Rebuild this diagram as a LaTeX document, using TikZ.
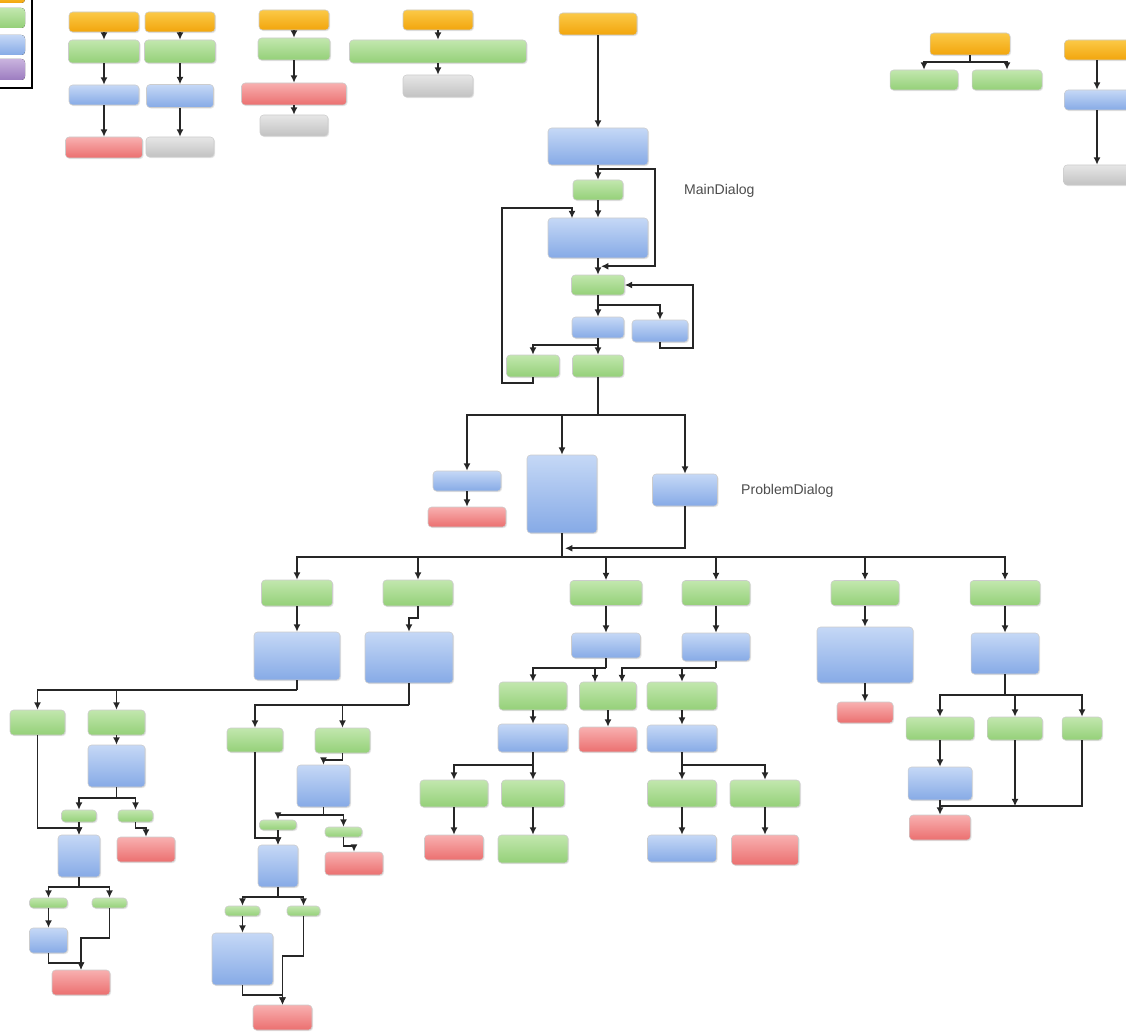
\documentclass[tikz,border=0pt]{standalone}
\usepackage{fontspec}
\setmainfont{Liberation Sans}
\usetikzlibrary{arrows.meta,shadows}

\definecolor{orgtop}{HTML}{FBC947}
\definecolor{orgbot}{HTML}{F2A50C}
\definecolor{grntop}{HTML}{C2E7AE}
\definecolor{grnbot}{HTML}{94D078}
\definecolor{blutop}{HTML}{C5D8F6}
\definecolor{blubot}{HTML}{86AAE6}
\definecolor{redtop}{HTML}{F8B0B0}
\definecolor{redbot}{HTML}{EB6F6F}
\definecolor{grytop}{HTML}{E6E6E6}
\definecolor{grybot}{HTML}{C2C2C2}
\definecolor{prptop}{HTML}{C9B3DE}
\definecolor{prpbot}{HTML}{9C7CC0}

\tikzset{
  wh/.style 2 args={minimum width=#1*0.2mm, minimum height=#2*0.2mm},
  boxbase/.style={rectangle, rounded corners=2pt, inner sep=0pt, draw=black!20, line width=0.3pt,
    drop shadow={shadow xshift=0.6pt, shadow yshift=-0.6pt, opacity=0.2}},
  startbox/.style={boxbase, top color=orgtop, bottom color=orgbot},
  actbox/.style={boxbase, top color=grntop, bottom color=grnbot},
  dlgbox/.style={boxbase, top color=blutop, bottom color=blubot},
  errbox/.style={boxbase, top color=redtop, bottom color=redbot},
  endbox/.style={boxbase, top color=grytop, bottom color=grybot},
  flow/.style={draw=black!85, line width=1pt, -{Latex[length=4.2pt,width=4pt]}},
  link/.style={draw=black!85, line width=1pt},
  dlgname/.style={font=\fontsize{8}{9}\selectfont, text=black!70}
}

\begin{document}
\begin{tikzpicture}[x=0.2mm, y=-0.2mm]
\useasboundingbox (0,0) rectangle (1126,1032);

% legend
\fill[top color=orgtop, bottom color=orgbot, rounded corners=2pt] (-10,-8) rectangle (25,3);
\fill[top color=grntop, bottom color=grnbot, rounded corners=2pt] (-10,8) rectangle (25,28);
\fill[top color=blutop, bottom color=blubot, rounded corners=2pt] (-10,35) rectangle (25,55);
\fill[top color=prptop, bottom color=prpbot, rounded corners=2pt] (-10,59) rectangle (25,80);
\draw[line width=1.2pt] (-10,-10) rectangle (32,88);

% small flows along the top
\node[startbox, wh={70}{20}] (o1) at (104,22) {};
\node[actbox, wh={71}{23}] (g1) at (104,51.5) {};
\node[dlgbox, wh={70}{20}] (b1) at (104,95) {};
\node[errbox, wh={77}{21}] (r1) at (104,147.5) {};
\draw[flow] (o1) -- (g1);
\draw[flow] (g1) -- (b1);
\draw[flow] (b1) -- (r1);

\node[startbox, wh={70}{20}] (o2) at (180,22) {};
\node[actbox, wh={71}{23}] (g2) at (180,51.5) {};
\node[dlgbox, wh={67}{23}] (b2) at (180,96) {};
\node[endbox, wh={68}{20}] (e2) at (180,147) {};
\draw[flow] (o2) -- (g2);
\draw[flow] (g2) -- (b2);
\draw[flow] (b2) -- (e2);

\node[startbox, wh={70}{20}] (o3) at (294,20) {};
\node[actbox, wh={72}{22}] (g3) at (294,49) {};
\node[errbox, wh={105}{22}] (r3) at (294,94) {};
\node[endbox, wh={68}{21}] (e3) at (294,125.5) {};
\draw[flow] (o3) -- (g3);
\draw[flow] (g3) -- (r3);
\draw[flow] (r3) -- (e3);

\node[startbox, wh={70}{20}] (o4) at (438,20) {};
\node[actbox, wh={177}{23}] (g4) at (438,51.5) {};
\node[endbox, wh={70}{22}] (e4) at (438,86) {};
\draw[flow] (o4) -- (g4);
\draw[flow] (g4) -- (e4);

\node[startbox, wh={80}{22}] (o5) at (970,44) {};
\node[actbox, wh={68}{20}] (g5a) at (924,80) {};
\node[actbox, wh={70}{20}] (g5b) at (1007,80) {};
\draw[link] (o5.south) -- ++(0,7);
\draw[flow] (o5.south) ++(0,7) -| (g5a.north);
\draw[flow] (o5.south) ++(0,7) -| (g5b.north);

\node[startbox, wh={65}{20}] (o6) at (1097,50) {};
\node[dlgbox, wh={65}{20}] (b6) at (1097,100) {};
\node[endbox, wh={67}{20}] (e6) at (1097,175) {};
\draw[flow] (o6) -- (b6);
\draw[flow] (b6) -- (e6);

% main dialog
\node[startbox, wh={78}{22}] (m0) at (598,24) {};
\node[dlgbox, wh={100}{37}] (m1) at (598,146.5) {};
\node[actbox, wh={50}{20}] (m2) at (598,190) {};
\node[dlgbox, wh={100}{40}] (m3) at (598,238) {};
\node[actbox, wh={53}{20}] (m4) at (598,285) {};
\node[dlgbox, wh={52}{21}] (m5a) at (598,327.5) {};
\node[dlgbox, wh={56}{22}] (m5b) at (660,331) {};
\node[actbox, wh={53}{22}] (m6a) at (533,366) {};
\node[actbox, wh={51}{22}] (m6b) at (598,366) {};
\node[dlgname, anchor=west] (lblmain) at (678,191) {MainDialog};

\draw[flow] (m0) -- (m1);
\draw[flow] (m1) -- (m2);
\draw[flow] (m1.south) ++(0,4) -| ++(57,97) -- ++(-54,0);
\draw[flow] (m2) -- (m3);
\draw[flow] (m3) -- (m4);
\draw[flow] (m4) -- (m5a);
\draw[flow] (m4.south) ++(0,10) -| (m5b.north);
\draw[flow] (m5b.south) -- ++(0,6) -- ++(33,0) |- (m4.east);
\draw[flow] (m5a) -- (m6b);
\draw[flow] (m5a.south) ++(0,7) -| (m6a.north);
\draw[flow] (m6a.south) -- ++(0,6) -- ++(-31,0) |- ++(70,-175) -- ++(0,10);

% problem dialog
\node[dlgbox, wh={68}{20}] (p1) at (467,481) {};
\node[errbox, wh={78}{20}] (p1r) at (467,517) {};
\node[dlgbox, wh={70}{78}] (p2) at (562,494) {};
\node[dlgbox, wh={65}{32}] (p3) at (685,490) {};
\node[dlgname, anchor=west] (lblprob) at (735,491) {ProblemDialog};

\draw[link] (m6b.south) -- ++(0,38);
\draw[flow] (m6b.south) ++(0,38) -| (p1.north);
\draw[flow] (m6b.south) ++(0,38) -| (p2.north);
\draw[flow] (m6b.south) ++(0,38) -| (p3.north);
\draw[flow] (p1) -- (p1r);
\draw[flow] (p3.south) |- ++(-120,42);

\node[actbox, wh={71}{26}] (q1) at (297,593) {};
\node[actbox, wh={70}{26}] (q2) at (418,593) {};
\node[actbox, wh={72}{25}] (q3) at (606,593) {};
\node[actbox, wh={68}{25}] (q4) at (716,593) {};
\node[actbox, wh={68}{25}] (q5) at (865,593) {};
\node[actbox, wh={70}{25}] (q6) at (1005,593) {};
\draw[link] (p2.south) -- ++(0,24);
\foreach \q in {q1,q2,q3,q4,q5,q6}
  \draw[flow] (p2.south) ++(0,24) -| (\q.north);

\node[dlgbox, wh={86}{48}] (s1) at (297,656) {};
\node[dlgbox, wh={88}{51}] (s2) at (409,657.5) {};
\node[dlgbox, wh={69}{25}] (s3) at (606,645.5) {};
\node[dlgbox, wh={68}{28}] (s4) at (716,647) {};
\node[dlgbox, wh={96}{56}] (s5) at (865,655) {};
\node[dlgbox, wh={68}{41}] (s6) at (1005,653.5) {};
\draw[flow] (q1) -- (s1);
\draw[flow] (q2.south) -- ++(0,12) -| (s2.north);
\draw[flow] (q3) -- (s3);
\draw[flow] (q4) -- (s4);
\draw[flow] (q5) -- (s5);
\draw[flow] (q6) -- (s6);

% right branches
\node[errbox, wh={56}{21}] (t5) at (865,712.5) {};
\draw[flow] (s5) -- (t5);

\node[actbox, wh={68}{23}] (u1) at (940,728.5) {};
\node[actbox, wh={55}{23}] (u2) at (1015,728.5) {};
\node[actbox, wh={40}{23}] (u3) at (1082,728.5) {};
\node[dlgbox, wh={64}{33}] (v1) at (940,783.5) {};
\node[errbox, wh={61}{25}] (w1) at (940,827.5) {};
\draw[link] (s6.south) -- ++(0,21);
\draw[flow] (s6.south) ++(0,21) -| (u1.north);
\draw[flow] (s6.south) ++(0,21) -| (u2.north);
\draw[flow] (s6.south) ++(0,21) -| (u3.north);
\draw[flow] (u1) -- (v1);
\draw[flow] (v1) -- (w1);
\draw[link] (u3.south) -- ++(0,66) -- ++(-142,0);
\draw[flow] (u2.south) -- ++(0,66);

% middle branches
\node[actbox, wh={68}{28}] (x1) at (533,696) {};
\node[actbox, wh={57}{28}] (x2) at (608,696) {};
\node[actbox, wh={70}{28}] (x3) at (682,696) {};
\node[dlgbox, wh={70}{28}] (y1) at (533,738) {};
\node[errbox, wh={58}{25}] (y2) at (608,739.5) {};
\node[dlgbox, wh={70}{27}] (y3) at (682,738.5) {};
\draw[link] (s3.south) -- ++(0,10);
\draw[flow] (s3.south) ++(0,10) -| (x1.north);
\draw[flow] (s3.south) ++(0,10) -| ++(-11,14);
\draw[link] (s4.south) -- ++(0,7);
\draw[flow] (s4.south) ++(0,7) -| ++(-94,14);
\draw[flow] (s4.south) ++(0,7) -| (x3.north);
\draw[flow] (x1) -- (y1);
\draw[flow] (x2) -- (y2);
\draw[flow] (x3) -- (y3);

\node[actbox, wh={68}{27}] (z1) at (454,793.5) {};
\node[actbox, wh={63}{27}] (z2) at (533,793.5) {};
\node[actbox, wh={69}{27}] (z3) at (682,793.5) {};
\node[actbox, wh={70}{27}] (z4) at (765,793.5) {};
\node[errbox, wh={59}{25}] (zz1) at (454,847.5) {};
\node[actbox, wh={70}{28}] (zz2) at (533,849) {};
\node[dlgbox, wh={69}{27}] (zz3) at (682,848.5) {};
\node[errbox, wh={67}{30}] (zz4) at (765,850) {};
\draw[flow] (y1) -- (z2);
\draw[flow] (y1.south) ++(0,13) -| (z1.north);
\draw[flow] (y3) -- (z3);
\draw[flow] (y3.south) ++(0,13) -| (z4.north);
\draw[flow] (z1) -- (zz1);
\draw[flow] (z2) -- (zz2);
\draw[flow] (z3) -- (zz3);
\draw[flow] (z4) -- (zz4);

% left branch
\node[actbox, wh={55}{25}] (la1) at (37.5,722.5) {};
\node[actbox, wh={57}{25}] (la2) at (116.5,722.5) {};
\node[dlgbox, wh={57}{42}] (lb) at (116.5,766) {};
\node[actbox, wh={35}{12}] (lc1) at (79,816) {};
\node[actbox, wh={35}{12}] (lc2) at (135.5,816) {};
\node[dlgbox, wh={42}{42}] (ld) at (79,856) {};
\node[errbox, wh={58}{25}] (ld2) at (146,849.5) {};
\node[actbox, wh={38}{10}] (le1) at (48.5,903) {};
\node[actbox, wh={35}{10}] (le2) at (109.5,903) {};
\node[dlgbox, wh={38}{25}] (lf) at (48.5,940.5) {};
\node[errbox, wh={58}{25}] (lg) at (81,982.5) {};
\draw[link] (s1.south) -- ++(0,10);
\draw[flow] (s1.south) ++(0,10) -| (la1.north);
\draw[flow] (s1.south) ++(0,10) -| (la2.north);
\draw[flow] (la2) -- (lb);
\draw[link] (lb.south) -- ++(0,11);
\draw[flow] (lb.south) ++(0,11) -| (lc1.north);
\draw[flow] (lb.south) ++(0,11) -| (lc2.north);
\draw[flow] (la1.south) -- ++(0,93) -| (ld.north);
\draw[flow] (lc1) -- (ld);
\draw[flow] (lc2.south) -- ++(0,6) -| (ld2.north);
\draw[link] (ld.south) -- ++(0,10);
\draw[flow] (ld.south) ++(0,10) -| (le1.north);
\draw[flow] (ld.south) ++(0,10) -| (le2.north);
\draw[flow] (le1) -- (lf);
\draw[flow] (le2.south) -- ++(0,30) -| (lg.north);
\draw[flow] (lf.south) -- ++(0,10) -| (lg.north);

% second left branch
\node[actbox, wh={56}{24}] (na1) at (255,740) {};
\node[actbox, wh={55}{25}] (na2) at (342.5,740.5) {};
\node[dlgbox, wh={53}{42}] (nb) at (323.5,786) {};
\node[actbox, wh={37}{10}] (nc1) at (278,825) {};
\node[actbox, wh={37}{10}] (nc2) at (343.5,832) {};
\node[dlgbox, wh={40}{42}] (nd) at (278,866) {};
\node[errbox, wh={58}{23}] (ne) at (354,863.5) {};
\node[actbox, wh={35}{10}] (nf1) at (242.5,911) {};
\node[actbox, wh={33}{10}] (nf2) at (303.5,911) {};
\node[dlgbox, wh={61}{52}] (ng) at (242.5,959) {};
\node[errbox, wh={59}{25}] (nh) at (282.5,1017.5) {};
\draw[link] (s2.south) -- ++(0,22);
\draw[flow] (s2.south) ++(0,22) -| (na1.north);
\draw[flow] (s2.south) ++(0,22) -| (na2.north);
\draw[flow] (na2.south) -- ++(0,7) -| (nb.north);
\draw[link] (nb.south) -- ++(0,8);
\draw[flow] (nb.south) ++(0,8) -| (nc1.north);
\draw[flow] (nb.south) ++(0,8) -| (nc2.north);
\draw[flow] (nc2.south) -- ++(0,9) -| (ne.north);
\draw[flow] (na1.south) -- ++(0,86) -| (nd.north);
\draw[flow] (nc1) -- (nd);
\draw[link] (nd.south) -- ++(0,10);
\draw[flow] (nd.south) ++(0,10) -| (nf1.north);
\draw[flow] (nd.south) ++(0,10) -| (nf2.north);
\draw[flow] (nf1) -- (ng);
\draw[flow] (nf2.south) -- ++(0,40) -| (nh.north);
\draw[flow] (ng.south) -- ++(0,10) -| (nh.north);
\end{tikzpicture}
\end{document}
